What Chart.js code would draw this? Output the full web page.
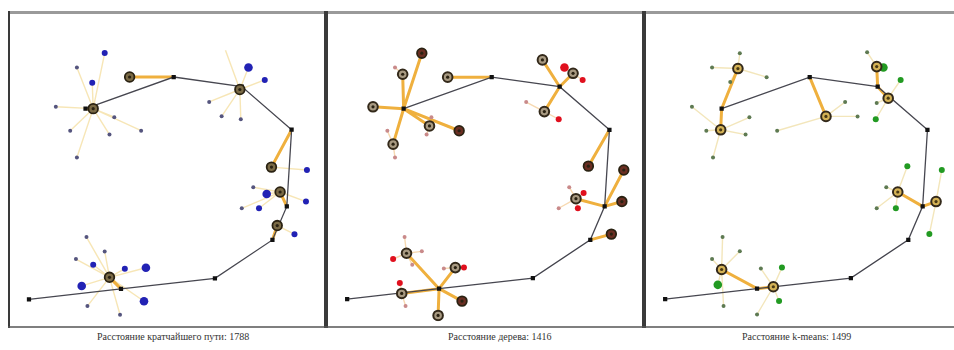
<!DOCTYPE html>
<html>
<head>
<meta charset="utf-8">
<script src="https://cdn.jsdelivr.net/npm/chart.js@4.4.0/dist/chart.umd.min.js"></script>
<style>
  body { margin: 0; width: 954px; height: 350px; overflow: hidden; background: #fff; position: relative; }
  canvas { position: absolute; top: 11px; }
  .cap { position: absolute; top: 331px; font: 10px "Liberation Serif", serif; color: #333; white-space: nowrap; }
</style>
</head>
<body>
<canvas id="c1" width="318" height="317" style="left:8px"></canvas>
<canvas id="c2" width="318" height="317" style="left:326px"></canvas>
<canvas id="c3" width="318" height="317" style="left:644px"></canvas>
<div class="cap" style="left:97px">Расстояние кратчайшего пути: 1788</div>
<div class="cap" style="left:448px">Расстояние дерева: 1416</div>
<div class="cap" style="left:742px">Расстояние k-means: 1499</div>
<script>
// shared backbone path (same in every panel)
const backbone = [[15,23],[111,34],[209,45],[269,85],[284,120],[289,200],[237,245],[166,255],[74,222]];

// ---- panel 1: shortest path ----
const p1RingsDark = [[82,222],[235,242],[120,255],[268,161],[277,135],[274,100],[99,46]];
const p1RingsLight = [];
const p1Thick = [[[166,255],[120,255]],[[289,200],[268,161]],[[284,120],[277,135]],[[269,85],[274,100]],[[111,34],[99,46]],[[74,222],[82,222]]];
const p1Fans = [
  [[82,222], [[94,280],[65,265],[81,249],[43,224],[58,199],[99,195],[104,213],[132,199],[65,171]]],
  [[235,242], [[244,265],[261,252],[203,229],[216,214],[236,211],[220,283]]],
  [[277,135], [[263,133],[249,140],[304,125],[255,118],[237,118]]],
  [[274,100], [[292,91]]],
  [[268,161], [[305,158]]],
  [[99,46], [[75,88],[94,73],[64,65],[82,59],[115,55],[137,56],[70,37],[135,21],[76,16],[110,7]]]
];
const p1Big = [[244,265],[263,133],[137,56],[70,37],[135,21]];
const p1Mid = [[94,280],[81,249],[261,252],[304,125],[255,118],[292,91],[305,158],[82,59],[115,55]];
const p1Small = [[65,265],[43,224],[58,199],[99,195],[104,213],[132,199],[65,171],[203,229],[216,214],[236,211],[249,140],[237,118],[75,88],[94,73],[64,65],[76,16],[110,7]];

// ---- panel 2: tree ----
const p2RingsDark = [[93,280],[132,199],[267,162],[304,158],[302,125],[291,91],[135,21]];
const p2RingsLight = [[73,258],[42,224],[101,204],[63,185],[120,255],[219,273],[251,259],[221,219],[254,128],[77,71],[128,56],[72,29],[110,6]];
const p2Thick = [
  [[74,222],[93,280]],[[74,222],[73,258]],[[74,222],[42,224]],[[74,222],[101,204]],[[74,222],[132,199]],[[74,222],[63,185]],
  [[166,255],[120,255]],[[237,245],[219,273]],[[237,245],[251,259]],[[237,245],[221,219]],
  [[289,200],[267,162]],[[284,120],[254,128]],[[284,120],[302,125]],[[284,120],[304,158]],[[269,85],[291,91]],
  [[111,34],[77,71]],[[111,34],[128,56]],[[111,34],[72,29]],[[111,34],[110,6]],[[111,34],[135,21]]
];
const p2Fans = [
  [[73,258], [[65,265]]],
  [[101,204], [[103,213],[98,195]]],
  [[63,185], [[57,199],[65,171]]],
  [[251,259], [[242,265],[261,252]]],
  [[221,219], [[202,229],[236,211]]],
  [[254,128], [[262,134],[247,140],[236,118],[256,118]]],
  [[77,71], [[75,88],[93,73],[63,65],[83,59]]],
  [[128,56], [[116,55],[137,56]]],
  [[72,29], [[70,40],[76,16]]]
];
const p2Big = [[242,265]];
const p2Mid = [[261,252],[262,134],[137,56],[70,40],[236,211],[256,118],[63,65]];
const p2Small = [[65,265],[57,199],[65,171],[103,213],[98,195],[202,229],[247,140],[236,118],[75,88],[93,73],[83,59],[116,55],[76,16]];

// ---- panel 3: k-means ----
const p3RingsDark = [];
const p3RingsLight = [[91,264],[73,200],[183,214],[236,266],[248,233],[258,135],[298,125],[74,54],[128,36]];
const p3Thick = [
  [[74,222],[91,264]],[[74,222],[73,200]],[[166,255],[183,214]],[[237,245],[236,266]],[[237,245],[248,233]],
  [[284,120],[258,135]],[[284,120],[298,125]],[[111,34],[74,54]],[[111,34],[128,36]]
];
const p3Fans = [
  [[91,264], [[93,280],[64,265],[121,255],[83,250]]],
  [[73,200], [[43,224],[103,213],[58,199],[99,195],[65,171]]],
  [[183,214], [[203,229],[216,214],[132,199]]],
  [[236,266], [[243,265],[226,281]]],
  [[248,233], [[261,252],[236,228],[235,211]]],
  [[258,135], [[246,140],[236,118],[256,118],[268,162]]],
  [[298,125], [[304,158],[291,91]]],
  [[74,54], [[75,88],[93,73],[64,65],[70,38],[76,16]]],
  [[128,36], [[115,55],[137,56],[134,21],[111,7]]]
];
const p3Big = [[243,265],[70,38]];
const p3Mid = [[261,252],[137,56],[134,21],[256,118],[291,91],[235,211],[268,162],[304,158]];
const p3Small = [[93,280],[64,265],[121,255],[83,250],[43,224],[103,213],[58,199],[99,195],[65,171],[203,229],[216,214],[132,199],[226,281],[236,228],[246,140],[236,118],[75,88],[93,73],[64,65],[76,16],[115,55],[111,7]];

const pts = arr => arr.map(p => ({x: p[0], y: p[1]}));
function segments(pairs) {
  const out = [];
  pairs.forEach(([a, b]) => { out.push({x: a[0], y: a[1]}, {x: b[0], y: b[1]}, {x: null, y: null}); });
  return out;
}
function fanPairs(fans) {
  const pairs = [];
  fans.forEach(([hub, leaves]) => leaves.forEach(l => pairs.push([hub, l])));
  return pairs;
}

const frame = {
  id: 'frame',
  afterDraw(chart) {
    const c = chart.ctx, w = chart.width, h = chart.height;
    c.save();
    c.strokeStyle = '#9a9a9a'; c.lineWidth = 3;
    c.beginPath(); c.moveTo(0, 1.5); c.lineTo(w, 1.5); c.stroke();
    c.strokeStyle = '#3a3a3a'; c.lineWidth = 2;
    c.beginPath(); c.moveTo(1, 0); c.lineTo(1, h); c.moveTo(w - 1, 0); c.lineTo(w - 1, h); c.stroke();
    c.strokeStyle = '#555'; c.lineWidth = 1.5;
    c.beginPath(); c.moveTo(0, h - 1); c.lineTo(w, h - 1); c.stroke();
    c.restore();
  }
};

function makePanel(id, d) {
  const dot = (data, r, color) => ({
    data: pts(data), showLine: false, pointRadius: r, pointHoverRadius: r,
    pointBackgroundColor: color, pointBorderColor: color, pointBorderWidth: 0
  });
  const rings = d.ringsDark.concat(d.ringsLight);
  const datasets = [
    dot(rings, 1.6, d.core),
    { data: pts(d.ringsDark), showLine: false, pointRadius: 4.8, pointBorderWidth: 1.8,
      pointBackgroundColor: d.darkFill, pointBorderColor: '#2a2212' },
    { data: pts(d.ringsLight), showLine: false, pointRadius: 4.8, pointBorderWidth: 2,
      pointBackgroundColor: d.lightFill, pointBorderColor: '#33291a' },
    dot(d.big, 4.3, d.color),
    dot(d.mid, 3, d.color),
    dot(d.small, 2, d.smallColor),
    { data: pts(backbone), showLine: true, borderColor: '#474750', borderWidth: 1.3,
      pointStyle: 'rect', pointRadius: 3, pointBackgroundColor: '#111', pointBorderWidth: 0 },
    { data: segments(d.thick), showLine: true, spanGaps: false, borderColor: '#efb03e',
      borderWidth: 3, pointRadius: 0 },
    { data: segments(fanPairs(d.fans)), showLine: true, spanGaps: false, borderColor: d.thin,
      borderWidth: 1.4, pointRadius: 0 }
  ];
  new Chart(document.getElementById(id), {
    type: 'scatter',
    data: { datasets },
    options: {
      responsive: false, animation: false, devicePixelRatio: 1,
      layout: { padding: 0 },
      plugins: { legend: { display: false }, tooltip: { enabled: false } },
      scales: {
        x: { type: 'linear', min: 0, max: 318, display: false },
        y: { type: 'linear', min: 0, max: 317, display: false }
      }
    },
    plugins: [frame]
  });
}

makePanel('c1', { ringsDark: p1RingsDark, ringsLight: p1RingsLight, thick: p1Thick, fans: p1Fans,
  big: p1Big, mid: p1Mid, small: p1Small, color: '#2222b4', smallColor: '#55557e',
  darkFill: '#7a6a45', lightFill: '#b09a60', core: '#2a2212', thin: 'rgba(240,205,110,0.5)' });
makePanel('c2', { ringsDark: p2RingsDark, ringsLight: p2RingsLight, thick: p2Thick, fans: p2Fans,
  big: p2Big, mid: p2Mid, small: p2Small, color: '#e0101e', smallColor: '#c98a8a',
  darkFill: '#6a2e22', lightFill: '#a89a82', core: '#2a2212', thin: 'rgba(240,180,100,0.5)' });
makePanel('c3', { ringsDark: p3RingsDark, ringsLight: p3RingsLight, thick: p3Thick, fans: p3Fans,
  big: p3Big, mid: p3Mid, small: p3Small, color: '#229a22', smallColor: '#5e7a52',
  darkFill: '#7a6a30', lightFill: '#d4b255', core: '#4a3a14', thin: 'rgba(232,205,120,0.5)' });
</script>
</body>
</html>
